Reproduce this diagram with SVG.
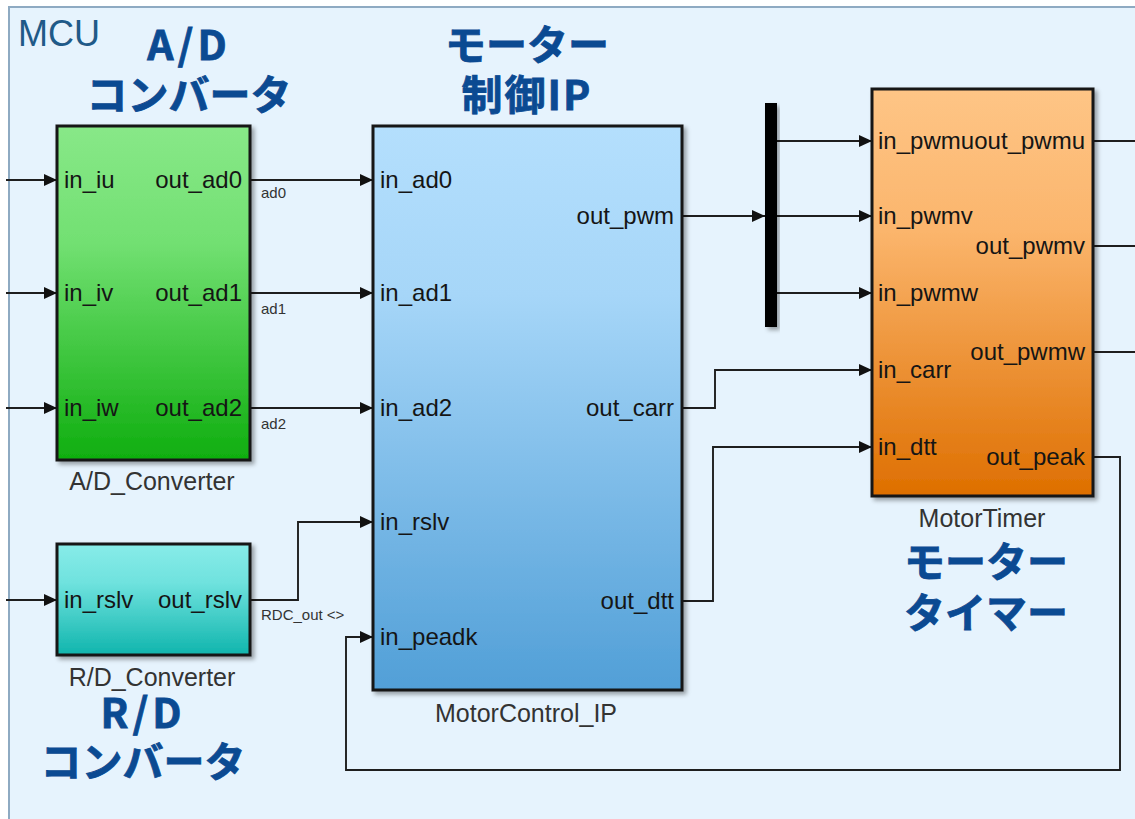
<svg xmlns="http://www.w3.org/2000/svg" width="1135" height="819" viewBox="0 0 1135 819">
<style>
.port{font-family:"Liberation Sans",Arial,sans-serif;font-size:24px;fill:#151515}
.end{text-anchor:end}
.name{font-family:"Liberation Sans",Arial,sans-serif;font-size:25px;fill:#333}
.mid{text-anchor:middle}
.sig{font-family:"Liberation Sans",Arial,sans-serif;font-size:15px;fill:#333}
.jp{font-family:"Noto Sans CJK JP","Noto Sans",sans-serif;font-size:41px;font-weight:bold;fill:#0b4a92;text-anchor:middle;stroke:#0b4a92;stroke-width:0.8}
.blk{stroke:#141414;stroke-width:3}
.wire{fill:none;stroke:#1e1e1e;stroke-width:1.9}
</style>
<defs>
<marker id="arr" viewBox="0 0 13 12" refX="13" refY="6" markerWidth="13" markerHeight="12" markerUnits="userSpaceOnUse" orient="auto">
<path d="M0,0 L13,6 L0,12 z" fill="#111"/>
</marker>
<filter id="sh" x="-10%" y="-10%" width="130%" height="130%">
<feDropShadow dx="3" dy="3" stdDeviation="2" flood-color="#000" flood-opacity="0.35"/>
</filter>
<linearGradient id="gAD" x1="0" y1="0" x2="0" y2="1">
<stop offset="0" stop-color="#88e888"/><stop offset="0.35" stop-color="#72e072"/><stop offset="1" stop-color="#0fae0f"/>
</linearGradient>
<linearGradient id="gRD" x1="0" y1="0" x2="0" y2="1">
<stop offset="0" stop-color="#88ece9"/><stop offset="0.35" stop-color="#6fe2de"/><stop offset="1" stop-color="#10b5ad"/>
</linearGradient>
<linearGradient id="gMC" x1="0" y1="0" x2="0" y2="1">
<stop offset="0" stop-color="#b4dffd"/><stop offset="0.3" stop-color="#a6d6f8"/><stop offset="1" stop-color="#519fd7"/>
</linearGradient>
<linearGradient id="gMT" x1="0" y1="0" x2="0" y2="1">
<stop offset="0" stop-color="#fec586"/><stop offset="0.35" stop-color="#fbb56c"/><stop offset="1" stop-color="#de6f00"/>
</linearGradient>
</defs>

<rect x="0" y="0" width="1135" height="819" fill="#ffffff"/>
<g id="mcu">
<rect x="9" y="7" width="1140" height="830" fill="#e6f3fd" stroke="#8eaac2" stroke-width="2"/>
<text x="18" y="46" font-family="'Liberation Sans',Arial,sans-serif" font-size="36" fill="#1f5a88">MCU</text>
</g>

<g id="connectors">
<path class="wire" d="M6,180 H57" marker-end="url(#arr)"/>
<path class="wire" d="M6,293 H57" marker-end="url(#arr)"/>
<path class="wire" d="M6,408 H57" marker-end="url(#arr)"/>
<path class="wire" d="M6,600 H57" marker-end="url(#arr)"/>
<path class="wire" d="M250,180 H373" marker-end="url(#arr)"/>
<path class="wire" d="M250,293 H373" marker-end="url(#arr)"/>
<path class="wire" d="M250,408 H373" marker-end="url(#arr)"/>
<path class="wire" d="M250,600 H298 V522 H373" marker-end="url(#arr)"/>
<path class="wire" d="M1093,457 H1120 V770 H346 V637 H373" marker-end="url(#arr)"/>
<path class="wire" d="M682,216 H765" marker-end="url(#arr)"/>
<path class="wire" d="M777,141 H872" marker-end="url(#arr)"/>
<path class="wire" d="M777,216 H872" marker-end="url(#arr)"/>
<path class="wire" d="M777,293 H872" marker-end="url(#arr)"/>
<path class="wire" d="M682,408 H715 V370 H872" marker-end="url(#arr)"/>
<path class="wire" d="M682,601 H713 V447 H872" marker-end="url(#arr)"/>
<path class="wire" d="M1093,141 H1135"/>
<path class="wire" d="M1093,246 H1135"/>
<path class="wire" d="M1093,352 H1135"/>
<text class="sig" x="261" y="198">ad0</text>
<text class="sig" x="261" y="314">ad1</text>
<text class="sig" x="261" y="429">ad2</text>
<text class="sig" x="261" y="620">RDC_out &lt;&gt;</text>
</g>

<g id="ad_converter">
<rect class="blk" x="57" y="126" width="193" height="334" fill="url(#gAD)" filter="url(#sh)"/>
<text class="port" x="64" y="188">in_iu</text>
<text class="port" x="64" y="301">in_iv</text>
<text class="port" x="64" y="416">in_iw</text>
<text class="port end" x="242" y="188">out_ad0</text>
<text class="port end" x="242" y="301">out_ad1</text>
<text class="port end" x="242" y="416">out_ad2</text>
<text class="name mid" x="152" y="490">A/D_Converter</text>
<text class="jp" x="189" y="60" letter-spacing="4">A/D</text>
<text class="jp" x="189" y="110">コンバータ</text>
</g>

<g id="rd_converter">
<rect class="blk" x="57" y="544" width="193" height="111" fill="url(#gRD)" filter="url(#sh)"/>
<text class="port" x="64" y="608">in_rslv</text>
<text class="port end" x="242" y="608">out_rslv</text>
<text class="name mid" x="152" y="686">R/D_Converter</text>
<text class="jp" x="143" y="728" letter-spacing="4">R/D</text>
<text class="jp" x="143" y="777">コンバータ</text>
</g>

<g id="motor_control_ip">
<rect class="blk" x="373" y="126" width="309" height="564" fill="url(#gMC)" filter="url(#sh)"/>
<text class="port" x="380" y="188">in_ad0</text>
<text class="port" x="380" y="301">in_ad1</text>
<text class="port" x="380" y="416">in_ad2</text>
<text class="port" x="380" y="530">in_rslv</text>
<text class="port" x="380" y="645">in_peadk</text>
<text class="port end" x="674" y="224">out_pwm</text>
<text class="port end" x="674" y="416">out_carr</text>
<text class="port end" x="674" y="609">out_dtt</text>
<text class="name mid" x="526" y="722">MotorControl_IP</text>
<text class="jp" x="527" y="60">モーター</text>
<text class="jp" x="527" y="110" letter-spacing="2">制御IP</text>
</g>

<g id="bus">
<rect x="765" y="103" width="12" height="224" fill="#000" filter="url(#sh)"/>
</g>

<g id="motor_timer">
<rect class="blk" x="872" y="89" width="221" height="407" fill="url(#gMT)" filter="url(#sh)"/>
<text class="port" x="878" y="149">in_pwmu</text>
<text class="port" x="878" y="224">in_pwmv</text>
<text class="port" x="878" y="301">in_pwmw</text>
<text class="port" x="878" y="378">in_carr</text>
<text class="port" x="878" y="455">in_dtt</text>
<text class="port end" x="1085" y="149">out_pwmu</text>
<text class="port end" x="1085" y="254">out_pwmv</text>
<text class="port end" x="1085" y="360">out_pwmw</text>
<text class="port end" x="1085" y="465">out_peak</text>
<text class="name mid" x="982" y="527">MotorTimer</text>
<text class="jp" x="986" y="577">モーター</text>
<text class="jp" x="986" y="628">タイマー</text>
</g>
</svg>
